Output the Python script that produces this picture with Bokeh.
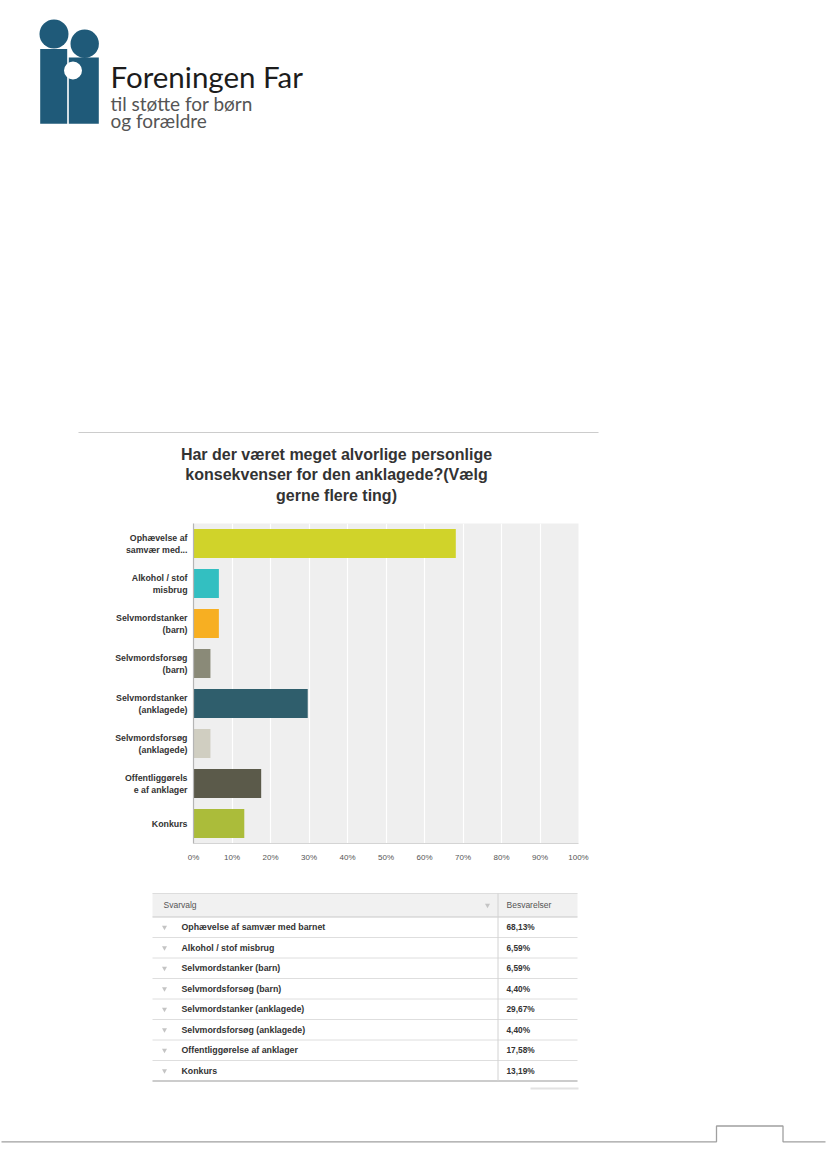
from bokeh.plotting import figure
from bokeh.models import Range1d, FactorRange, ColumnDataSource, FixedTicker
from bokeh.core.properties import value
from bokeh.embed import file_html
from bokeh.resources import INLINE

# ---------------- data ----------------
logo_title = "Foreningen Far"
logo_sub = ["til støtte for børn", "og forældre"]
title_lines = ["Har der været meget alvorlige personlige",
               "konsekvenser for den anklagede?(Vælg",
               "gerne flere ting)"]
axis_labels = ["Ophævelse af\nsamvær med...", "Alkohol / stof\nmisbrug",
               "Selvmordstanker\n(barn)", "Selvmordsforsøg\n(barn)",
               "Selvmordstanker\n(anklagede)", "Selvmordsforsøg\n(anklagede)",
               "Offentliggørels\ne af anklager", "Konkurs"]
full_labels = ["Ophævelse af samvær med barnet", "Alkohol / stof misbrug",
               "Selvmordstanker (barn)", "Selvmordsforsøg (barn)",
               "Selvmordstanker (anklagede)", "Selvmordsforsøg (anklagede)",
               "Offentliggørelse af anklager", "Konkurs"]
values = [68.13, 6.59, 6.59, 4.40, 29.67, 4.40, 17.58, 13.19]
value_labels = ["68,13%", "6,59%", "6,59%", "4,40%", "29,67%", "4,40%", "17,58%", "13,19%"]
bar_colors = ["#d0d32a", "#33bfc1", "#f7af22", "#8a8a78", "#2f5e6c", "#d0cec1", "#5b5a4a", "#abbc3a"]
x_ticks = [0, 10, 20, 30, 40, 50, 60, 70, 80, 90, 100]
tick_labels = ["0%", "10%", "20%", "30%", "40%", "50%", "60%", "70%", "80%", "90%", "100%"]
header_labels = ["Svarvalg", "Besvarelser"]

FONT = "Liberation Sans"
SANS = value(FONT)
W = 826


def blank(h, y0):
    f = figure(width=W, height=h, x_range=Range1d(0, W), y_range=Range1d(y0 + h, y0),
               output_backend="svg", toolbar_location=None, min_border=0,
               x_axis_location=None, y_axis_location=None)
    f.grid.visible = False
    f.outline_line_color = None
    f.background_fill_color = "white"
    f.border_fill_color = "white"
    return f


# ---------------- header (logo + title) ----------------
A_TOP, A_H = 0, 518
fa = blank(A_H, A_TOP)
LOGO = "#1f5a79"
fa.quad(left=[39.7], right=[66.7], top=[48.5], bottom=[123.3], color=LOGO, line_color=None)
fa.quad(left=[68.3], right=[98.3], top=[57.0], bottom=[123.3], color=LOGO, line_color=None)
fa.circle(x=[53.5], y=[33.5], radius=14.5, color=LOGO, line_color=None)
fa.circle(x=[84.2], y=[43.3], radius=14.2, color=LOGO, line_color=None)
fa.circle(x=[72.5], y=[70.0], radius=9, color="white", line_color=None)
fa.text(x=[110], y=[75.5], text=[logo_title], text_font=value("Lato"), text_font_size="29.5px",
        text_color="#1c1c1c", text_baseline="alphabetic", text_align="left")
fa.text(x=[110, 110], y=[102.5, 119.5], text=logo_sub, text_font=value("Lato"),
        text_font_size="19px", text_color="#555555", text_baseline="alphabetic", text_align="left")

fa.segment(x0=[78], y0=[432], x1=[598], y1=[432], line_color="#cccccc", line_width=1.2)
fa.text(x=[336] * 3, y=[453.5, 474.0, 494.5], text=title_lines, text_font=SANS,
        text_font_size="16px", text_font_style="bold", text_color="#333333",
        text_align="center", text_baseline="middle")

# ---------------- bar chart ----------------
src = ColumnDataSource(dict(cat=axis_labels, val=values, color=bar_colors))
fb = figure(width=W, height=362, x_range=Range1d(0, 100),
            y_range=FactorRange(factors=list(reversed(axis_labels))),
            output_backend="svg", toolbar_location=None,
            min_border_left=193, min_border_right=W - 578, min_border_top=5, min_border_bottom=37)
fb.outline_line_color = None
fb.background_fill_color = "#efefef"
fb.border_fill_color = "white"
fb.hbar(y="cat", left=0, right="val", height=0.72, color="color", line_color=None, source=src)

fb.xgrid.ticker = FixedTicker(ticks=x_ticks)
fb.xgrid.grid_line_color = "white"
fb.xgrid.grid_line_width = 1.2
fb.ygrid.grid_line_color = None

xa = fb.xaxis[0]
xa.ticker = FixedTicker(ticks=x_ticks)
xa.major_label_overrides = {t: l for t, l in zip(x_ticks, tick_labels)}
xa.axis_line_color = "#d4d4d4"
xa.major_tick_line_color = None
xa.minor_tick_line_color = None
xa.major_tick_out = 0
xa.major_label_standoff = 9
xa.major_label_text_font = FONT
xa.major_label_text_font_size = "8px"
xa.major_label_text_color = "#555555"

ya = fb.yaxis[0]
ya.axis_line_color = "#b5b5b5"
ya.axis_line_width = 1.2
ya.major_tick_line_color = None
ya.minor_tick_line_color = None
ya.major_tick_out = 0
ya.major_label_standoff = 6
ya.major_label_text_font = FONT
ya.major_label_text_font_size = "8.8px"
ya.major_label_text_font_style = "bold"
ya.major_label_text_color = "#333333"

# ---------------- table + footer ----------------
C_TOP, C_H = 880, 282
fc = blank(C_H, C_TOP)
T_L, T_R, T_TOP, T_HB, ROW = 152, 577, 893, 916.5, 20.5
DIV = 497.5
n = len(full_labels)
fc.quad(left=[T_L], right=[T_R], top=[T_TOP], bottom=[T_HB], color="#f1f1f1", line_color=None)
fc.segment(x0=[T_L], y0=[T_TOP], x1=[T_R], y1=[T_TOP], line_color="#dddddd", line_width=1)
fc.segment(x0=[T_L], y0=[T_HB], x1=[T_R], y1=[T_HB], line_color="#c8c8c8", line_width=1)
row_lines = [T_HB + ROW * (i + 1) for i in range(n - 1)]
fc.segment(x0=[T_L] * len(row_lines), y0=row_lines, x1=[T_R] * len(row_lines), y1=row_lines,
           line_color="#dedede", line_width=1)
bottom_y = T_HB + ROW * n
fc.segment(x0=[T_L], y0=[bottom_y], x1=[T_R], y1=[bottom_y], line_color="#cccccc", line_width=2)
fc.segment(x0=[530], y0=[bottom_y + 7.5], x1=[578], y1=[bottom_y + 7.5], line_color="#e2e2e2", line_width=2)
fc.segment(x0=[DIV], y0=[T_TOP], x1=[DIV], y1=[bottom_y], line_color="#d2d2d2", line_width=1)

hy = (T_TOP + T_HB) / 2
fc.text(x=[163, 506], y=[hy, hy], text=header_labels, text_font=SANS, text_font_size="8.5px",
        text_color="#555555", text_baseline="middle", text_align="left")
fc.scatter(x=[487], y=[hy], marker="inverted_triangle", size=5, color="#c4c4c4", line_color=None)

row_y = [T_HB + ROW * (i + 0.5) for i in range(n)]
tsrc = ColumnDataSource(dict(y=row_y, label=full_labels, val=value_labels))
fc.scatter(x=164, y="y", marker="inverted_triangle", size=5, color="#c4c4c4", line_color=None, source=tsrc)
fc.text(x=181, y="y", text="label", text_font=SANS, text_font_size="8.8px", text_font_style="bold",
        text_color="#333333", text_baseline="middle", text_align="left", source=tsrc)
fc.text(x=506, y="y", text="val", text_font=SANS, text_font_size="8.3px", text_font_style="bold",
        text_color="#333333", text_baseline="middle", text_align="left", source=tsrc)

fc.line(x=[1, 716, 716, 782.5, 782.5, 825], y=[1141.3, 1141.3, 1125.5, 1125.5, 1141.3, 1141.3],
        line_color="#a0a0a0", line_width=1.3)

open("out.html", "w").write(file_html([fa, fb, fc], INLINE))
